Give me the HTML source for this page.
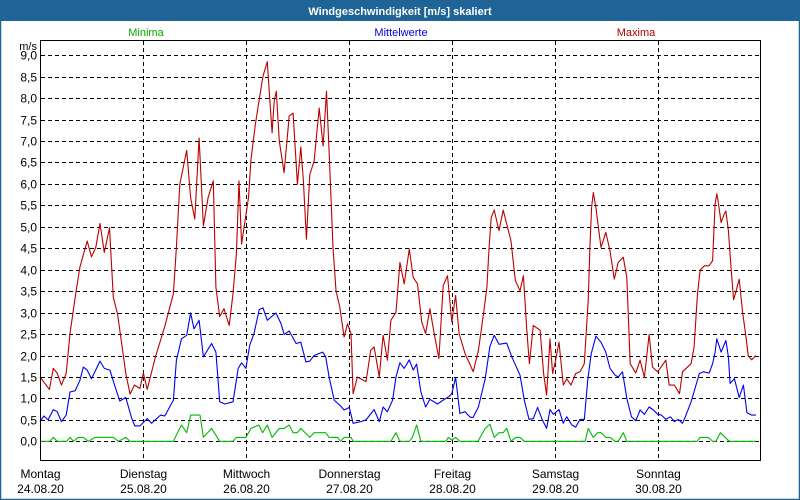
<!DOCTYPE html>
<html><head><meta charset="utf-8"><style>
body{margin:0;background:#fff;font-family:"Liberation Sans",sans-serif}
#wrap{position:relative;width:800px;height:500px;overflow:hidden}
</style></head><body>
<div id="wrap">
<svg id="chart" width="800" height="500" xmlns="http://www.w3.org/2000/svg" font-family="Liberation Sans, sans-serif">
<rect x="0" y="0" width="800" height="500" fill="#fff"/>
<rect x="0" y="0" width="800" height="21" fill="#1e6496"/>
<rect x="0.5" y="20" width="799" height="479.5" fill="none" stroke="#1e6496" stroke-width="1.5"/>
<text x="400" y="15" text-anchor="middle" fill="#fff" font-size="11" font-weight="bold">Windgeschwindigkeit [m/s] skaliert</text>
<text x="146" y="36" text-anchor="middle" fill="#00aa00" font-size="11">Minima</text>
<text x="401" y="36" text-anchor="middle" fill="#0000dd" font-size="11">Mittelwerte</text>
<text x="636" y="36" text-anchor="middle" fill="#b00000" font-size="11">Maxima</text>
<text x="37" y="50" text-anchor="end" font-size="11">m/s</text>
<g id="grid"></g><g id="series"></g>
<rect x="40.5" y="40.5" width="720" height="420" fill="none" stroke="#000" stroke-width="1"/>
<g id="labels"></g>
</svg></div>
<script>
const yTicks=[0,0.5,1,1.5,2,2.5,3,3.5,4,4.5,5,5.5,6,6.5,7,7.5,8,8.5,9];
const days=["Montag","Dienstag","Mittwoch","Donnerstag","Freitag","Samstag","Sonntag"];
const dates=["24.08.20","25.08.20","26.08.20","27.08.20","28.08.20","29.08.20","30.08.20"];
const maxHours=[0,2.2,3.1,4.0,5.0,6.1,7.0,8.2,9.3,11.0,12.0,13.0,14.0,15.0,16.2,17.1,18.1,20.0,21.0,22.0,23.3,24.1,25.0,27.0,28.1,29.1,31.1,31.8,32.6,34.2,35.1,36.1,37.1,38.1,39.2,40.4,41.0,41.9,42.9,44.1,45.0,45.8,46.4,47.0,
48.6,49.2,50.2,51.1,52.0,53.0,53.4,54.1,54.6,55.1,55.8,56.9,58.1,59.0,60.0,60.8,61.4,62.1,62.9,63.9,65.1,66.0,66.8,67.4,68.3,69.0,69.9,70.9,71.7,72.5,73.0,74.0,76.0,77.1,77.9,79.1,80.0,81.0,81.8,83.0,83.9,84.9,86.1,87.0,88.0,89.0,89.9,90.9,91.9,93.0,94.0,95.0,
96.0,96.9,97.7,99.1,100.0,101.0,102.2,103.4,104.2,104.7,105.2,105.9,107.0,108.0,109.8,110.8,111.9,112.7,113.5,114.1,115.0,116.6,117.4,118.1,118.9,119.5,120.2,121.0,122.0,122.8,123.8,124.9,125.9,126.9,127.8,128.2,128.6,129.0,129.6,130.8,131.9,132.9,133.9,134.8,136.0,136.8,137.6,138.9,139.9,140.9,142.0,142.8,
144,145.9,146.7,147.9,149.1,149.8,151.8,152.5,153.3,153.9,154.9,156.0,156.8,157.4,157.8,158.1,158.8,159.5,159.9,160.5,161.1,161.7,162.3,163.0,163.8,164.6,165.1,165.9,166.9];
const maxValues=[1.50,1.21,1.70,1.59,1.31,1.58,2.51,3.36,4.06,4.67,4.30,4.52,5.08,4.40,4.98,3.36,2.96,1.58,1.10,1.31,1.23,1.59,1.21,2.00,2.35,2.68,3.44,4.52,5.99,6.78,5.68,5.18,7.07,5.02,5.68,6.07,3.59,2.91,3.09,2.70,3.44,4.37,6.07,4.60,
5.68,6.57,7.38,7.96,8.51,8.85,8.24,7.19,7.93,8.16,7.00,6.26,7.58,7.65,5.99,6.86,6.07,4.71,6.22,6.53,7.77,6.88,8.16,6.76,4.52,3.51,3.13,2.43,2.74,2.51,1.11,1.50,1.39,2.12,2.20,1.50,2.47,1.89,2.82,3.01,4.17,3.67,4.48,3.82,3.67,2.78,2.51,3.09,2.51,1.93,3.63,3.86,
2.78,3.40,2.51,2.04,1.85,1.62,2.12,2.97,3.59,4.52,5.22,5.39,4.91,5.39,4.67,3.75,3.51,3.86,2.59,1.81,2.70,2.59,1.58,1.08,2.39,1.58,1.89,2.31,1.31,1.46,1.31,1.58,1.62,1.81,3.28,4.52,5.45,5.80,5.45,4.52,4.87,4.44,3.78,4.17,4.29,3.82,1.81,1.59,1.89,1.49,2.49,1.73,
1.62,1.89,1.31,1.31,1.11,1.62,1.81,2.20,3.44,3.99,4.09,4.09,4.21,5.53,5.77,5.60,5.10,5.29,5.37,4.91,4.06,3.30,3.51,3.78,3.01,2.43,2.00,1.90,2.00];
const meanHours=[0,0.9,1.9,3.1,4.0,5.0,6.1,7.0,8.2,9.3,10.1,11.0,12.0,14.0,15.0,16.3,17.5,18.6,20.0,21.4,22.1,23.3,25.0,26.0,28.1,29.1,31.1,31.8,33.0,34.2,35.1,35.9,37.1,38.1,40.0,41.0,41.9,43.1,45.0,46.2,47.0,
48,48.9,49.9,51.1,52.0,53.0,55.0,56.2,56.9,58.1,59.7,60.8,62.0,62.9,63.9,65.9,66.6,67.4,68.6,70.1,70.9,72.1,73.0,74.8,76.0,77.9,79.1,80.0,81.0,82.2,83.0,83.9,84.9,86.1,87.0,87.8,88.8,89.9,90.9,92.7,94.0,95.4,
96,96.9,97.9,99.1,100.3,101.0,102.2,103.8,104.9,105.9,107.0,108.8,110.0,111.9,112.9,114.0,115.0,116.0,117.0,118.1,118.9,119.7,121.0,122.0,122.8,124.0,124.9,125.9,126.9,127.7,128.5,129.6,130.8,131.9,132.9,134.1,134.8,135.8,136.8,137.9,138.9,139.9,140.9,142.0,143.0,
144,144.9,145.9,147.0,147.9,148.8,149.8,150.6,151.8,152.7,153.7,154.7,156.0,156.8,157.4,157.8,158.8,159.9,160.5,160.9,161.9,163.0,164.0,164.8,165.9,166.9];
const meanValues=[0.46,0.59,0.50,0.74,0.69,0.46,0.61,1.15,1.18,1.42,1.73,1.66,1.46,1.87,1.70,1.66,1.27,0.94,1.02,0.53,0.36,0.36,0.53,0.42,0.61,0.59,0.96,1.89,2.39,2.47,2.99,2.62,2.82,1.97,2.28,2.08,0.92,0.87,0.92,1.70,1.83,
1.70,2.24,2.51,3.07,3.11,2.82,2.99,2.74,2.49,2.57,2.28,2.31,1.85,1.87,2.00,2.08,1.97,1.50,0.96,0.82,0.73,0.79,0.42,0.46,0.50,0.74,0.46,0.80,0.69,0.96,1.50,1.83,1.70,1.90,1.66,1.80,1.15,0.80,0.98,0.87,0.96,1.05,
1.11,1.49,0.65,0.69,0.56,0.56,0.80,1.46,2.21,2.47,2.26,2.29,1.97,1.54,0.96,0.51,0.53,0.79,0.53,0.30,0.74,0.63,0.74,0.42,0.57,0.38,0.33,0.51,0.51,1.42,2.04,2.45,2.31,2.08,1.70,1.54,1.50,1.62,1.00,0.57,0.48,0.73,0.63,0.80,0.73,
0.63,0.61,0.51,0.57,0.46,0.51,0.42,0.61,0.92,1.23,1.58,1.62,1.59,1.81,2.08,2.39,2.08,2.35,1.97,1.35,1.46,1.02,1.31,0.67,0.61,0.61];
const minHours=[0,2.3,3.1,4.0,6.2,7.0,7.8,8.9,10.1,11.3,12.8,17.1,18.3,20.0,21.0,31.1,32.0,33.0,34.2,35.1,37.3,38.1,40.0,41.9,45.0,45.8,
48,49.2,51.0,51.9,53.0,54.1,55.8,56.9,58.1,59.0,60.0,60.8,62.9,63.9,66.6,67.4,69.4,70.1,70.9,72.5,73.0,81.8,83.0,83.9,86.1,86.8,87.8,88.8,94.6,95.2,
96,96.9,97.9,102.1,103.8,104.9,105.9,107.0,108.0,108.8,109.8,110.9,111.9,112.9,127.1,127.8,129.0,130.0,130.8,131.9,132.9,134.1,134.8,136.0,136.8,
144,153.2,153.9,155.8,156.8,157.6,158.6,160.7,166.9];
const minValues=[0,0,0.09,0,0,0.09,0,0.09,0.09,0,0.09,0.09,0,0.09,0,0,0.19,0.38,0.20,0.61,0.61,0.09,0.30,0,0,0.09,
0.09,0.30,0.38,0.20,0.38,0.09,0.30,0.30,0.38,0.20,0.20,0.30,0.09,0.20,0.20,0.09,0.09,0,0.09,0.09,0,0,0.20,0,0,0.09,0.38,0,0,0.09,
0.03,0.09,0,0,0.30,0.40,0.09,0.20,0.20,0.30,0,0.09,0.09,0,0,0.30,0.09,0.20,0.20,0.09,0.09,0,0,0.20,0,
0,0,0.09,0.09,0,0,0.20,0,0];

const X0=40,X1=760.6,HOURS=168,Y0=441.3,PPU=42.9;
const xs=h=>X0+h/HOURS*(X1-X0);
const ys=v=>Y0-v*PPU;
const NS="http://www.w3.org/2000/svg";
const grid=document.getElementById('grid'),ser=document.getElementById('series'),lab=document.getElementById('labels');
function mk(tag,attrs,parent){const e=document.createElementNS(NS,tag);for(const k in attrs)e.setAttribute(k,attrs[k]);parent.appendChild(e);return e;}
yTicks.forEach(v=>{
  const y=Math.round(ys(v))+0.5;
  const l=mk('line',{x1:41,x2:760,y1:y,y2:y,stroke:'#000','stroke-dasharray':'4,3'},grid);
  
  
  const t=mk('text',{x:37,y:y+4,'text-anchor':'end','font-size':'12'},lab);
  t.textContent=v.toFixed(1).replace('.',',');
  
  
});
days.forEach((d,i)=>{
  const x=Math.round(xs(i*24))+0.5;
  if(i>0){
    const l=mk('line',{x1:x,x2:x,y1:41,y2:460,stroke:'#000','stroke-dasharray':'4,3'},grid);
    
    
  }
  const t=mk('text',{x:x,y:478,'text-anchor':'middle','font-size':'12'},lab);
  t.textContent=d;
  
  
  const t2=mk('text',{x:x,y:493,'text-anchor':'middle','font-size':'12'},lab);
  t2.textContent=dates[i];
  
  
});
function line(hs,vs,color,name){
  const pts=hs.map((h,i)=>xs(h).toFixed(1)+','+ys(vs[i]).toFixed(1)).join(' ');
  const p=mk('polyline',{points:pts,fill:'none',stroke:color,'stroke-width':1.1,'stroke-linejoin':'round'},ser);
  
  
}
line(minHours,minValues,'#00bb00','minima-line');
line(meanHours,meanValues,'#0000ee','mittelwerte-line');
line(maxHours,maxValues,'#bb0000','maxima-line');
</script>
</body></html>
